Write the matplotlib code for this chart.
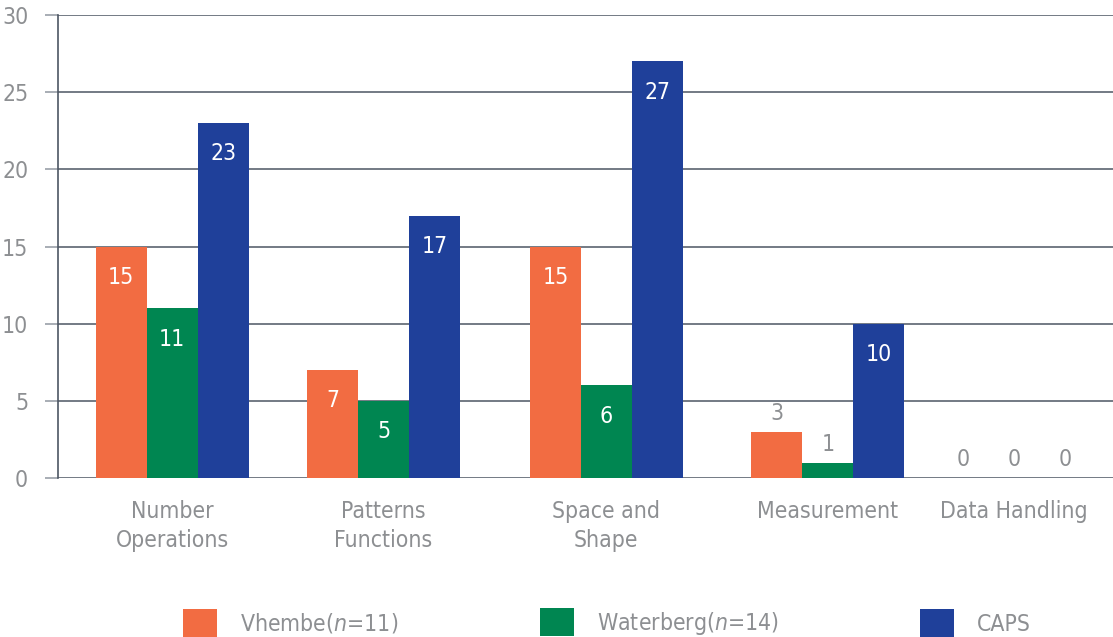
import numpy as np
import matplotlib
matplotlib.use("Agg")
import matplotlib.pyplot as plt
from matplotlib.patches import Patch

plt.rcParams['font.family'] = ['DejaVu Sans']
plt.rcParams['font.stretch'] = 'condensed'
plt.rcParams['mathtext.fontset'] = 'custom'
plt.rcParams['mathtext.it'] = 'DejaVu Sans:italic:stretch=condensed'
plt.rcParams['mathtext.rm'] = 'DejaVu Sans:stretch=condensed'

categories = ["Number\nOperations", "Patterns\nFunctions", "Space and\nShape",
              "Measurement", "Data Handling"]
series_names = ["Vhembe($n$=11)", "Waterberg($n$=14)", "CAPS"]
vhembe = [15, 7, 15, 3, 0]
waterberg = [11, 5, 6, 1, 0]
caps = [23, 17, 27, 10, 0]

colors = ["#F26C42", "#008651", "#1F409A"]
text_grey = "#8d8f92"
line_col = "#4d5663"
fs = 16.5

# group centres along the x axis (slightly uneven, as laid out)
group_x = np.array([0, 0.953, 1.957, 2.955, 3.793])
bar_w = 0.23

fig = plt.figure(figsize=(11.13, 6.37), dpi=100)
ax = fig.add_axes([58 / 1113, 1 - 478 / 637, 1 - 58 / 1113, (478 - 15) / 637])

for i, vals in enumerate([vhembe, waterberg, caps]):
    xs = group_x + (i - 1) * bar_w
    ax.bar(xs, vals, width=bar_w, color=colors[i], zorder=3, linewidth=0)
    for x, v in zip(xs, vals):
        if v >= 4:
            ax.text(x, v - 2.0, str(v), ha='center', va='center',
                    color='white', fontsize=fs, zorder=4)
        else:
            ax.text(x, v + 1.2, str(v), ha='center', va='center',
                    color=text_grey, fontsize=fs, zorder=4)

ax.set_ylim(0, 30)
ax.set_xlim(-0.514, 4.24)
ax.set_yticks(range(0, 31, 5))
ax.yaxis.grid(True, color=line_col, linewidth=1.1, zorder=0)
ax.set_axisbelow(True)
for s in ['top', 'right', 'bottom']:
    ax.spines[s].set_visible(False)
ax.spines['left'].set_color(line_col)
ax.spines['left'].set_linewidth(1.2)

ax.set_xticks(group_x)
ax.set_xticklabels(categories, fontsize=fs, color=text_grey, linespacing=1.3)
ax.tick_params(axis='x', length=0, pad=16)
ax.tick_params(axis='y', length=9.5, width=1.2, color="#9aa0a8", pad=12,
               labelsize=fs, labelcolor=text_grey)

# one legend entry per series, spread across the bottom
legend_left = [183, 540, 920]
for name, c, px in zip(series_names, colors, legend_left):
    leg = fig.legend([Patch(facecolor=c, edgecolor='none')], [name],
                     loc='lower left', bbox_to_anchor=(px / 1113, 0.0),
                     borderaxespad=0.0, borderpad=0.0, frameon=False,
                     fontsize=fs, handlelength=1.5, handleheight=1.5,
                     handletextpad=1.0)
    for t in leg.get_texts():
        t.set_color(text_grey)

fig.savefig("out.png", dpi=100)
